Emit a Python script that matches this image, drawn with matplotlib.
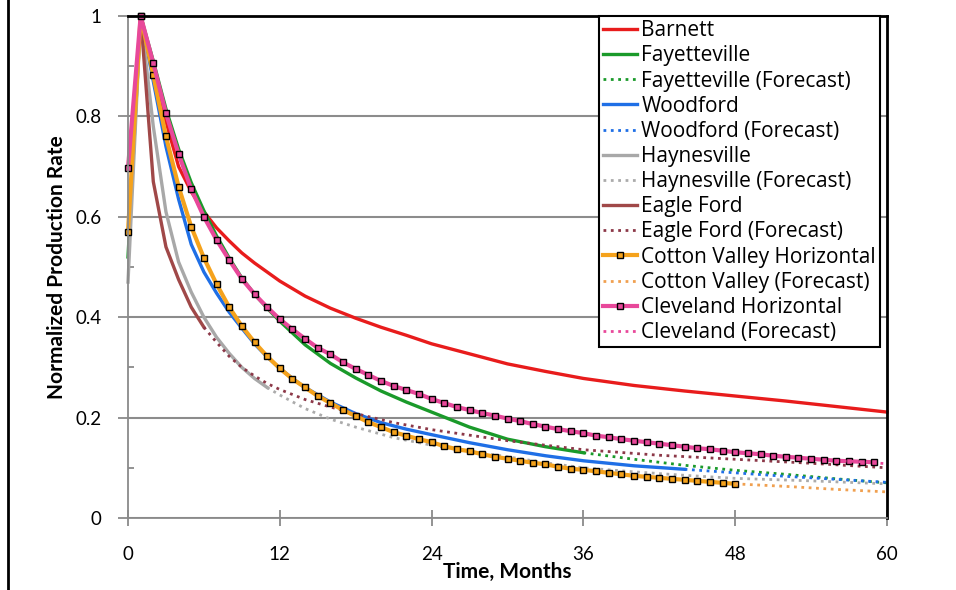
import matplotlib
matplotlib.use('Agg')
import matplotlib.pyplot as plt
from matplotlib.lines import Line2D
from matplotlib.ticker import MultipleLocator, FuncFormatter

plt.rcParams['font.family'] = ['Lato', 'DejaVu Sans']

# values (normalized rate vs month)
barnett_t = [1, 2, 3, 4, 5, 6, 7, 8, 9, 10, 12, 14, 16, 18, 20, 22, 24, 27, 30, 33, 36, 40, 44, 48, 52, 56, 60]
barnett = [1.0, 0.89, 0.79, 0.70, 0.65, 0.61, 0.578, 0.552, 0.528, 0.508, 0.472, 0.442, 0.418, 0.398,
           0.38, 0.364, 0.347, 0.327, 0.307, 0.292, 0.278, 0.264, 0.253, 0.243, 0.233, 0.222, 0.211]

fay_t = [0, 1, 2, 3, 4, 5, 6, 7, 8, 9, 10, 11, 12, 14, 16, 18, 20, 22, 24, 27, 30, 33, 36]
fay = [0.52, 1.0, 0.91, 0.815, 0.735, 0.668, 0.612, 0.562, 0.518, 0.478, 0.446, 0.418, 0.392,
       0.345, 0.308, 0.279, 0.253, 0.231, 0.211, 0.181, 0.157, 0.142, 0.13]
fay_fc_t = [36, 40, 44, 48, 52, 56, 60]
fay_fc = [0.13, 0.117, 0.105, 0.095, 0.087, 0.078, 0.07]

wood_t = [1, 2, 3, 4, 5, 6, 7, 8, 9, 10, 11, 12, 13, 14, 16, 18, 20, 22, 24, 27, 30, 33, 36, 40, 44]
wood = [1.0, 0.87, 0.74, 0.635, 0.545, 0.49, 0.448, 0.41, 0.378, 0.347, 0.321, 0.298, 0.278, 0.26,
        0.231, 0.208, 0.19, 0.177, 0.166, 0.15, 0.136, 0.124, 0.114, 0.104, 0.097]
wood_fc_t = [44, 48, 52, 56, 60]
wood_fc = [0.097, 0.09, 0.083, 0.077, 0.071]

hay_t = [0, 1, 2, 3, 4, 5, 6, 7, 8, 9, 10, 11]
hay = [0.47, 1.0, 0.78, 0.61, 0.51, 0.45, 0.40, 0.36, 0.328, 0.30, 0.278, 0.26]
hay_fc_t = [11, 12, 14, 16, 18, 21, 24, 27, 30, 33, 36, 40, 44, 48, 54, 60]
hay_fc = [0.26, 0.245, 0.218, 0.197, 0.181, 0.16, 0.145, 0.133, 0.122, 0.11, 0.1, 0.092, 0.085,
          0.079, 0.074, 0.068]

ef_t = [1, 2, 3, 4, 5, 6]
ef = [1.0, 0.67, 0.54, 0.475, 0.42, 0.38]
ef_fc_t = [6, 7, 8, 9, 10, 11, 12, 14, 16, 18, 21, 24, 30, 36, 42, 48, 54, 60]
ef_fc = [0.38, 0.35, 0.322, 0.30, 0.283, 0.268, 0.256, 0.236, 0.221, 0.208, 0.19, 0.176, 0.154,
         0.136, 0.125, 0.117, 0.109, 0.10]

# monthly, month 0..48
cotton = [0.57, 1.0, 0.882, 0.76, 0.66, 0.58, 0.518, 0.466, 0.42, 0.382, 0.35, 0.322, 0.298,
          0.277, 0.26, 0.243, 0.229, 0.215, 0.203, 0.191, 0.181, 0.171, 0.164, 0.157, 0.151,
          0.143, 0.137, 0.133, 0.127, 0.122, 0.118, 0.114, 0.11, 0.107, 0.102, 0.098, 0.096,
          0.093, 0.09, 0.087, 0.084, 0.082, 0.08, 0.078, 0.076, 0.074, 0.072, 0.07, 0.068]
cotton_fc_t = [48, 52, 56, 60]
cotton_fc = [0.068, 0.063, 0.057, 0.052]

# monthly, month 0..59
cleveland = [0.697, 1.0, 0.906, 0.806, 0.725, 0.655, 0.60, 0.554, 0.514, 0.476, 0.446, 0.42,
             0.396, 0.376, 0.357, 0.339, 0.326, 0.31, 0.297, 0.285, 0.273, 0.263, 0.255, 0.247,
             0.237, 0.229, 0.221, 0.215, 0.209, 0.204, 0.198, 0.193, 0.187, 0.182, 0.177, 0.173,
             0.169, 0.164, 0.161, 0.157, 0.154, 0.151, 0.148, 0.145, 0.142, 0.139, 0.137, 0.134,
             0.131, 0.129, 0.127, 0.124, 0.122, 0.12, 0.118, 0.116, 0.114, 0.113, 0.112, 0.111]
cleveland_fc_t = [56, 58, 60]
cleveland_fc = [0.114, 0.112, 0.108]

x_ticks = [0, 12, 24, 36, 48, 60]

fig = plt.figure(figsize=(9.56, 5.9), dpi=100)
ax = fig.add_axes([128 / 956, 1 - 518 / 590, 759 / 956, 502 / 590])

lw = 2.4
dlw = 2.0
ax.plot(barnett_t, barnett, color='#e81c1c', lw=lw, label='Barnett', clip_on=False)
ax.plot(fay_t, fay, color='#1a9a2a', lw=lw, label='Fayetteville', clip_on=False)
ax.plot(fay_fc_t, fay_fc, color='#1a9a2a', lw=dlw, ls=':', label='Fayetteville (Forecast)')
ax.plot(wood_t, wood, color='#1f6fe6', lw=lw, label='Woodford', clip_on=False)
ax.plot(wood_fc_t, wood_fc, color='#1f6fe6', lw=dlw, ls=':', label='Woodford (Forecast)')
ax.plot(hay_t, hay, color='#a8a8a8', lw=lw, label='Haynesville', clip_on=False)
ax.plot(hay_fc_t, hay_fc, color='#ababab', lw=dlw, ls=':', label='Haynesville (Forecast)')
ax.plot(ef_t, ef, color='#a04848', lw=lw, label='Eagle Ford', clip_on=False)
ax.plot(ef_fc_t, ef_fc, color='#8c3848', lw=dlw, ls=':', label='Eagle Ford (Forecast)')
ax.plot(range(len(cotton)), cotton, color='#f5a21c', lw=lw + 0.6, marker='s', ms=3.8,
        mfc='#f5a21c', mec='black', mew=1.0, label='Cotton Valley Horizontal', clip_on=False)
ax.plot(cotton_fc_t, cotton_fc, color='#f0a050', lw=dlw, ls=':', label='Cotton Valley (Forecast)')
ax.plot(range(len(cleveland)), cleveland, color='#e8489a', lw=lw + 0.6, marker='s', ms=3.8,
        mfc='#e8489a', mec='black', mew=1.0, label='Cleveland Horizontal', clip_on=False)
ax.plot(cleveland_fc_t, cleveland_fc, color='#e8489a', lw=dlw, ls=':', label='Cleveland (Forecast)')

ax.set_xlim(0, 60)
ax.set_ylim(0, 1)
ax.set_xticks(x_ticks)
ax.yaxis.set_major_locator(MultipleLocator(0.2))
ax.yaxis.set_minor_locator(MultipleLocator(0.1))
ax.yaxis.set_major_formatter(FuncFormatter(lambda v, p: '{:g}'.format(round(v, 1))))

ax.yaxis.grid(True, which='major', color='#8c8c8c', lw=1.5)
ax.set_axisbelow(True)

for s in ['left', 'bottom']:
    ax.spines[s].set_color('#8a8a8a')
    ax.spines[s].set_linewidth(1.3)
for s in ['top', 'right']:
    ax.spines[s].set_color('black')
    ax.spines[s].set_linewidth(2)

ax.tick_params(axis='x', direction='inout', length=12, width=1.3, color='#8a8a8a',
               labelsize=13.5, pad=14)
ax.tick_params(axis='y', which='major', direction='out', length=7, width=1.3, color='#8a8a8a',
               labelsize=13.5, pad=12)
ax.tick_params(axis='y', which='minor', direction='in', length=4, width=1.3, color='#8a8a8a')

ax.set_xlabel('Time, Months', fontsize=15, fontweight='bold')
ax.xaxis.set_label_coords(0.5, -0.088)
ax.set_ylabel('Normalized Production Rate', fontsize=15, fontweight='bold')
ax.yaxis.set_label_coords(-0.08, 0.5)

leg = ax.legend(loc='upper right', bbox_to_anchor=(0.991, 1.0),
                prop={'family': ['Open Sans', 'DejaVu Sans'], 'size': 15}, frameon=True,
                fancybox=False, borderaxespad=0, handlelength=1.65, handletextpad=0.2,
                borderpad=0.2, labelspacing=0.2, numpoints=1)
leg.get_frame().set_edgecolor('black')
leg.get_frame().set_linewidth(1.5)
leg.get_frame().set_alpha(1)

# left edge of the original frame
fig.add_artist(Line2D([7.5 / 956, 7.5 / 956], [0, 1], transform=fig.transFigure,
                      color='black', lw=2))

plt.savefig('out.png', dpi=100, facecolor='white')
plt.close()
